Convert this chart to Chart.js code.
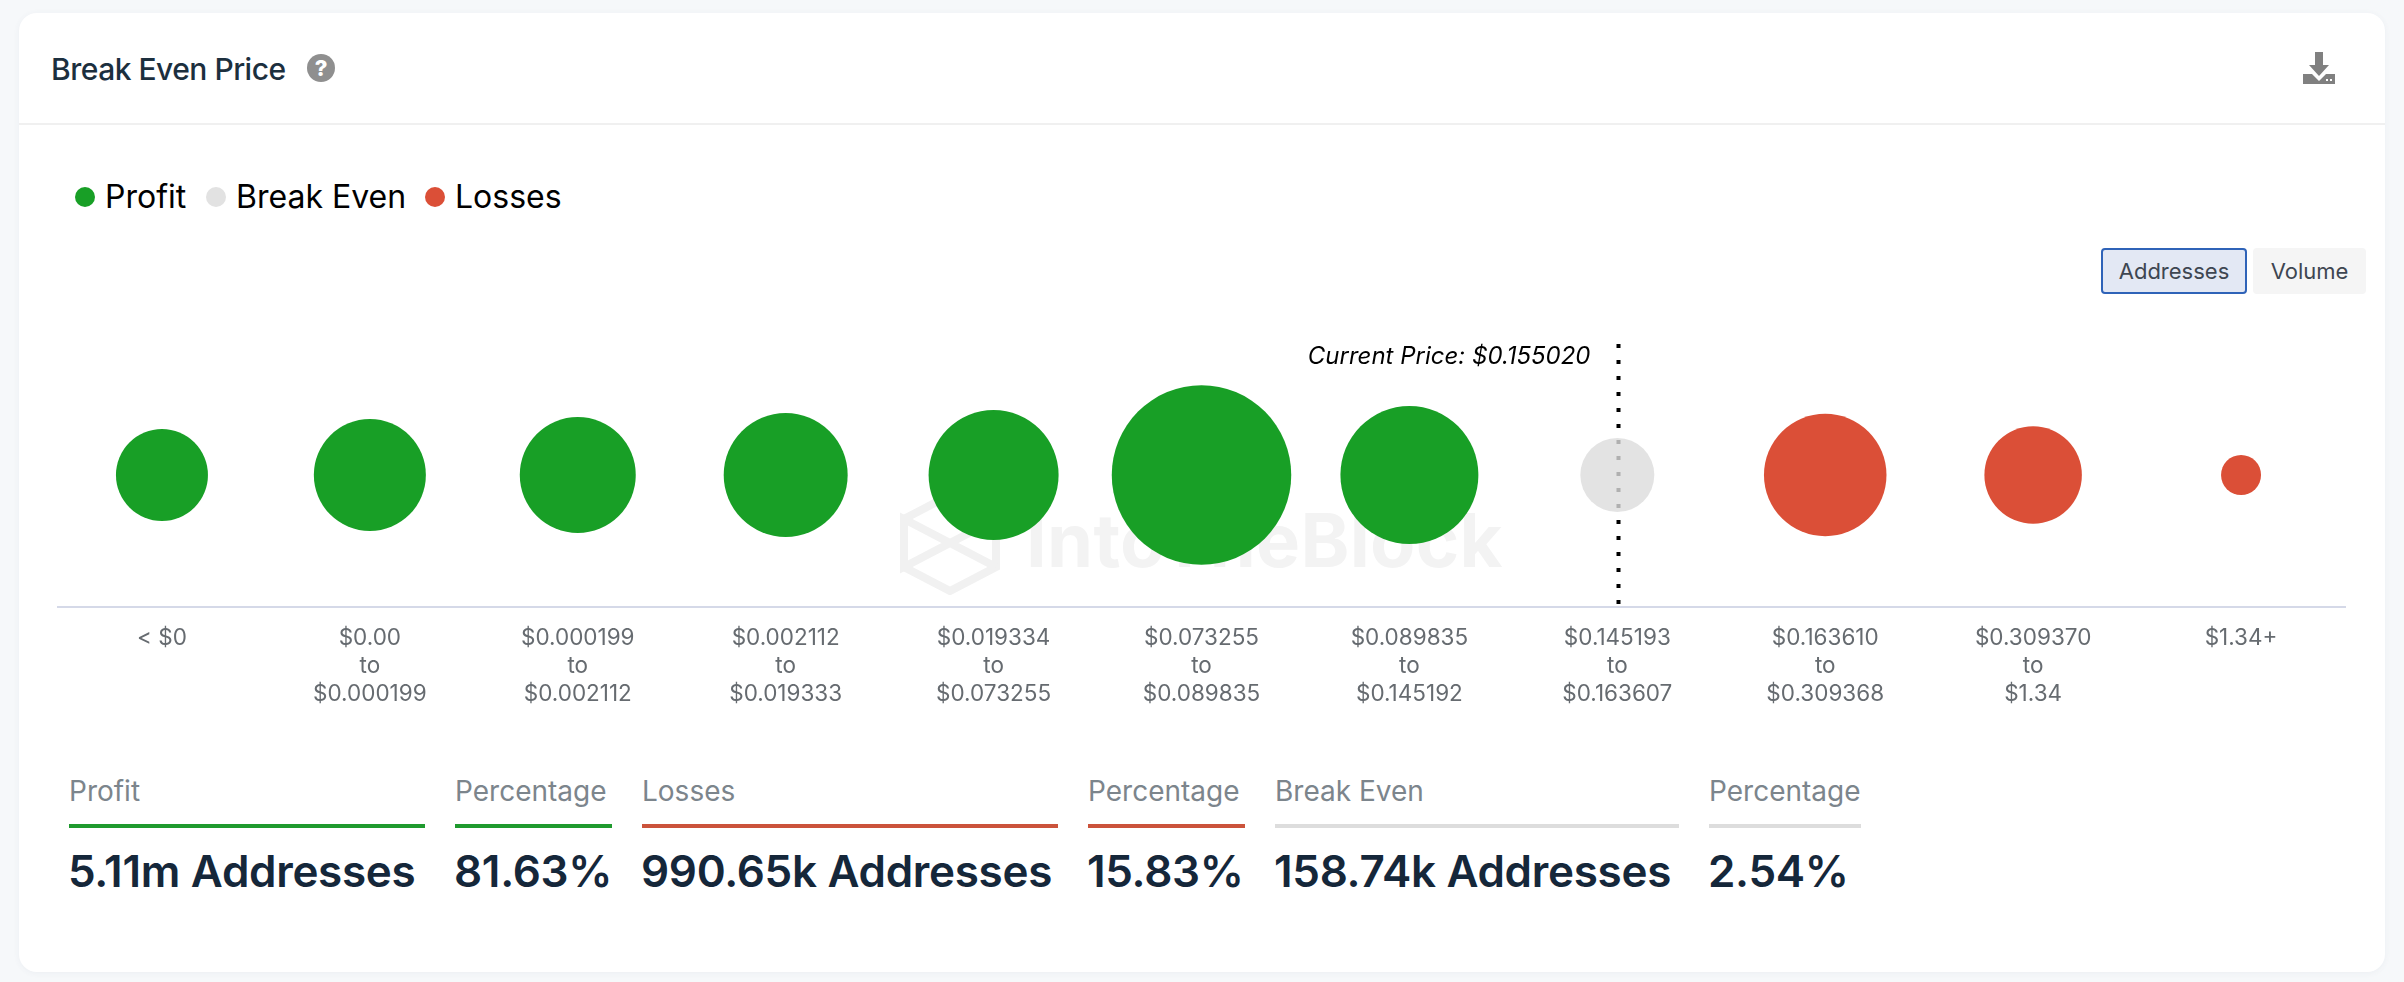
<!DOCTYPE html>
<html>
<head>
<meta charset="utf-8">
<title>Break Even Price</title>
<script src="https://cdn.jsdelivr.net/npm/chart.js@4"></script>
<style>
  html, body { margin: 0; padding: 0; background: #f6f8fa; font-family: Inter, sans-serif; }
  body { width: 2404px; height: 982px; position: relative; overflow: hidden; }
  .card { position: absolute; left: 19px; top: 13px; width: 2366px; height: 959px; background: #fff; border-radius: 18px; box-shadow: 0 1px 6px rgba(60, 80, 120, 0.06); }
  .abs { position: absolute; white-space: nowrap; }
  .title { left: 51px; top: 50px; font-size: 30px; line-height: 38px; color: #1c2f3e; letter-spacing: -0.5px; font-weight: 500; }
  .sep { left: 19px; top: 123px; width: 2366px; height: 2px; background: #f0f0f0; }
  .legend-dot { width: 20px; height: 20px; border-radius: 50%; }
  .legend-text { font-size: 32px; line-height: 40px; color: #000; }
  .btn { top: 248px; height: 46px; box-sizing: border-box; border-radius: 4px; font-size: 22px; line-height: 42px; text-align: center; color: #3e4651; }
  .stat-label { font-size: 28px; line-height: 36px; color: #7c858c; }
  .stat-line { top: 824px; height: 4px; }
  .stat-value { font-size: 44px; line-height: 54px; color: #15273a; font-weight: 600; letter-spacing: -0.3px; margin-left: -1px; }
  .wm { left: 1026px; top: 497px; font-size: 74px; line-height: 86px; font-weight: 700; color: #f3f3f3; letter-spacing: 0.3px; }
  #wrap { position: absolute; left: 0; top: 300px; width: 2404px; height: 420px; }
</style>
</head>
<body>
<div class="card"></div>
<div class="abs title">Break Even Price</div>
<svg class="abs" style="left:307px;top:54px" width="28" height="28" viewBox="0 0 28 28">
  <circle cx="14" cy="14" r="14" fill="#8f8f8f"/>
  <text x="14" y="22" text-anchor="middle" font-family="Inter" font-weight="800" font-size="22" fill="#fff">?</text>
</svg>
<svg class="abs" style="left:2303px;top:52px" width="32" height="32" viewBox="0 0 32 32">
  <path d="M12 0h8v13h6L16 24 6 13h6z M0 22h9l7 7 7-7h9v10H0z" fill="#808080"/>
  <rect x="23" y="27" width="2" height="2" fill="#fff"/><rect x="27" y="27" width="2" height="2" fill="#fff"/>
</svg>
<div class="abs sep"></div>

<div id="legend"></div>

<div class="abs btn" style="left:2101px;width:146px;background:#e3e8f4;border:2px solid #2f63b8">Addresses</div>
<div class="abs btn" style="left:2253px;width:113px;background:#f5f5f5;line-height:46px">Volume</div>

<!-- watermark sits under the chart canvas -->
<svg class="abs" style="left:900px;top:491px" width="100" height="104" viewBox="0 0 100 104" fill="none" stroke="#f1f1f1" stroke-width="8">
  <path d="M50 4 96 28v48L50 100 4 76V28z"/>
  <path d="M4 28l92 48M96 28 4 76M4 28v48l46-24z"/>
</svg>
<div class="abs wm">IntoTheBlock</div>

<div id="wrap"><canvas id="chart"></canvas></div>
<div id="stats"></div>

<script>
const categories = [
  ["< $0"],
  ["$0.00", "to", "$0.000199"],
  ["$0.000199", "to", "$0.002112"],
  ["$0.002112", "to", "$0.019333"],
  ["$0.019334", "to", "$0.073255"],
  ["$0.073255", "to", "$0.089835"],
  ["$0.089835", "to", "$0.145192"],
  ["$0.145193", "to", "$0.163607"],
  ["$0.163610", "to", "$0.309368"],
  ["$0.309370", "to", "$1.34"],
  ["$1.34+"],
];

// addresses per price bin
const profitValues = [283000, 477000, 523000, 624000, 708000, 1666000, 829000];
const breakEvenValues = [158740];
const lossValues = [605000, 330000, 31000];

const profitBins = [0, 1, 2, 3, 4, 5, 6];
const breakEvenBins = [7];
const lossBins = [8, 9, 10];

const currentPriceLabel = "Current Price: $0.155020";
const currentPriceBin = 7;

const legendNames = ["Profit", "Break Even", "Losses"];
const statLabels = ["Profit", "Percentage", "Losses", "Percentage", "Break Even", "Percentage"];
const statValues = ["5.11m Addresses", "81.63%", "990.65k Addresses", "15.83%", "158.74k Addresses", "2.54%"];

const GREEN = "#189f26";
const GRAY = "rgba(220, 220, 220, 0.8)";
const RED = "#db4f37";

function bubbleRadius(value) {
  return 0.405 * Math.pow(value, 0.377);
}

function toPoints(bins, values) {
  // the category scale matches points by their label, so x is the label itself
  return bins.map((bin, i) => ({ x: categories[bin], y: 0, r: bubbleRadius(values[i]), v: values[i] }));
}

// dotted current price marker, goes under the bubbles
const currentPriceLine = {
  id: "currentPriceLine",
  beforeDatasetsDraw(chart) {
    const { ctx, chartArea, scales } = chart;
    const x = Math.round(scales.x.getPixelForValue(currentPriceBin)) + 1.5;
    ctx.save();
    ctx.strokeStyle = "#000";
    ctx.lineWidth = 4;
    ctx.setLineDash([4, 12]);
    ctx.beginPath();
    ctx.moveTo(x, chartArea.top + 1);
    ctx.lineTo(x, chartArea.bottom);
    ctx.stroke();
    ctx.setLineDash([]);
    ctx.fillStyle = "#000";
    ctx.font = "italic 24px Inter";
    ctx.textAlign = "right";
    ctx.textBaseline = "middle";
    ctx.fillText(currentPriceLabel, x - 28, chartArea.top + 14);
    ctx.restore();
  },
};

new Chart(document.getElementById("chart"), {
  type: "bubble",
  data: {
    labels: categories,
    datasets: [
      { label: legendNames[0], data: toPoints(profitBins, profitValues), backgroundColor: GREEN, borderWidth: 0 },
      { label: legendNames[1], data: toPoints(breakEvenBins, breakEvenValues), backgroundColor: GRAY, borderWidth: 0 },
      { label: legendNames[2], data: toPoints(lossBins, lossValues), backgroundColor: RED, borderWidth: 0 },
    ],
  },
  options: {
    responsive: true,
    maintainAspectRatio: false,
    animation: false,
    layout: { autoPadding: false, padding: { left: 58, right: 59, top: 43, bottom: 13 } },
    plugins: {
      legend: { display: false },
      tooltip: {
        callbacks: {
          label: (item) => item.dataset.label + ": " + item.raw.v.toLocaleString("en-US"),
        },
      },
    },
    scales: {
      x: {
        type: "category",
        offset: true,
        grid: { display: false, drawTicks: false },
        border: { color: "#d5d9e8", width: 2 },
        afterFit(scale) {
          scale.height = 100;
        },
        ticks: {
          color: "#666b70",
          padding: 17,
          maxRotation: 0,
          autoSkip: false,
          font: { family: "Inter", size: 22.5, lineHeight: 1.25 },
        },
      },
      y: { display: false, min: -1, max: 1 },
    },
  },
  plugins: [currentPriceLine],
});

// html legend, same three names and colours as the datasets
const legendLayout = [
  { dot: 75, text: 105, color: GREEN },
  { dot: 206, text: 236, color: "#e2e2e2" },
  { dot: 425, text: 455, color: RED },
];
const legendEl = document.getElementById("legend");
legendNames.forEach((name, i) => {
  const spot = legendLayout[i];
  legendEl.insertAdjacentHTML(
    "beforeend",
    `<div class="abs legend-dot" style="left:${spot.dot}px;top:187px;background:${spot.color}"></div>` +
      `<div class="abs legend-text" style="left:${spot.text}px;top:177px">${name}</div>`
  );
});

// summary row under the chart
const statColumns = [
  { left: 69, width: 356, color: "#1f9a2e" },
  { left: 455, width: 157, color: "#1f9a2e" },
  { left: 642, width: 416, color: "#cb533b" },
  { left: 1088, width: 157, color: "#cb533b" },
  { left: 1275, width: 404, color: "#dddddd" },
  { left: 1709, width: 152, color: "#dddddd" },
];
const statsEl = document.getElementById("stats");
statColumns.forEach((col, i) => {
  statsEl.insertAdjacentHTML(
    "beforeend",
    `<div class="abs stat-label" style="left:${col.left}px;top:773px">${statLabels[i]}</div>` +
      `<div class="abs stat-line" style="left:${col.left}px;width:${col.width}px;background:${col.color}"></div>` +
      `<div class="abs stat-value" style="left:${col.left}px;top:844px">${statValues[i]}</div>`
  );
});
</script>
</body>
</html>
